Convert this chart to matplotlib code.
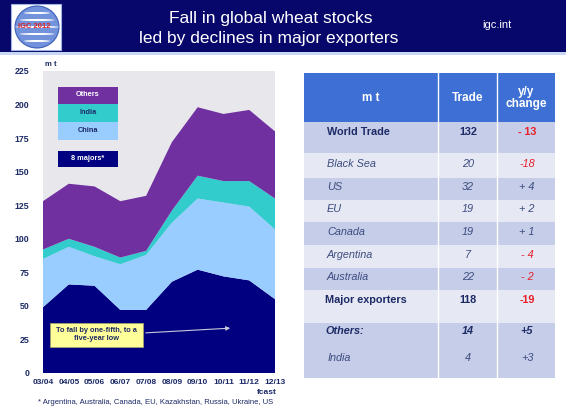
import matplotlib
matplotlib.use("Agg")
import matplotlib.pyplot as plt
from matplotlib.patches import Rectangle, Ellipse, FancyArrowPatch
import numpy as np

plt.rcParams['font.family'] = ['Liberation Sans', 'DejaVu Sans']

# ---------------- data ----------------
seasons = ["03/04", "04/05", "05/06", "06/07", "07/08", "08/09", "09/10", "10/11", "11/12", "12/13"]
majors = [49, 66, 65, 47, 47, 68, 77, 72, 69, 55]
china_top = [85, 94, 87, 81, 88, 112, 130, 127, 124, 107]
india_top = [92, 100, 94, 86, 91, 121, 147, 143, 143, 130]
total = [128, 141, 139, 128, 132, 172, 198, 193, 196, 180]
china = [c - m for c, m in zip(china_top, majors)]
india = [i - c for i, c in zip(india_top, china_top)]
others = [t - i for t, i in zip(total, india_top)]
yticks = [0, 25, 50, 75, 100, 125, 150, 175, 200, 225]

row_labels = ["World Trade", "Black Sea", "US", "EU", "Canada", "Argentina", "Australia",
              "Major exporters", "Others:", "India"]
row_trade = ["132", "20", "32", "19", "19", "7", "22", "118", "14", "4"]
row_change = ["- 13", "-18", "+ 4", "+ 2", "+ 1", "- 4", "- 2", "-19", "+5", "+3"]

# ---------------- figure ----------------
W, H = 566, 412
fig = plt.figure(figsize=(W / 100, H / 100), dpi=100)
fig.patch.set_facecolor("white")


def fx(x):
    return x / W


def fy(y):
    return 1 - y / H


def rect(x0, y0, x1, y1, **kw):
    fig.patches.append(Rectangle((fx(x0), fy(y1)), fx(x1) - fx(x0), fy(y0) - fy(y1),
                                 transform=fig.transFigure, **kw))


def txt(x, y, s, **kw):
    fig.text(fx(x), fy(y), s, **kw)


navy = "#000080"
textnavy = "#1c2a66"

# banner
rect(0, 0, W, 52, facecolor="#07076b", edgecolor="none")
rect(0, 52, W, 55, facecolor="#c8d8f4", edgecolor="none")
# logo
rect(11, 4, 61, 50, facecolor="white", edgecolor="#9fb4e0", lw=0.8)
fig.patches.append(Ellipse((fx(37), fy(27)), fx(44), 42 / H, transform=fig.transFigure,
                           facecolor="#5a7fd6", edgecolor="#2a4fb0", lw=0.8, alpha=0.85))
for k in range(-2, 3):
    fig.patches.append(Ellipse((fx(37), fy(27 + k * 7)), fx(44 - abs(k) * 9), 2 / H,
                               transform=fig.transFigure, facecolor="white", edgecolor="none"))
txt(34, 27, "IGC 2012", fontsize=5.5, color="#e02020", fontweight="bold", ha="center", va="center")

txt(271, 19, "Fall in global wheat stocks", fontsize=12.5, color="white", ha="center", va="center")
txt(269, 38, "led by declines in major exporters", fontsize=12.5, color="white", ha="center", va="center")
txt(497, 25, "igc.int", fontsize=8, color="white", ha="center", va="center")

# ---------------- chart ----------------
L, R, T, B = 43, 275, 71, 373
ax = fig.add_axes([fx(L), fy(B), fx(R) - fx(L), fy(T) - fy(B)])
ax.set_facecolor("#e8e8ec")
x = np.arange(len(seasons))
ax.stackplot(x, majors, china, india, others,
             colors=[navy, "#99ccff", "#33cccc", "#7030a0"], linewidth=0)
ax.set_xlim(0, len(seasons) - 1)
ax.set_ylim(0, 225)
ax.set_yticks(yticks)
ax.set_yticklabels([str(v) for v in yticks], fontsize=6.3, fontweight="bold", color=textnavy)
ax.set_xticks(x)
ax.set_xticklabels(seasons, fontsize=6, fontweight="bold", color=textnavy)
ax.tick_params(length=0, pad=4)
ax.tick_params(axis="y", pad=10)
for s in ax.spines.values():
    s.set_visible(False)
txt(45, 64, "m t", fontsize=5.5, fontweight="bold", color=textnavy, ha="left", va="center")
txt(277, 392, "fcast", fontsize=6, fontweight="bold", color=textnavy, ha="right", va="center")

# legend boxes
rect(58, 87, 118, 104, facecolor="#7030a0", edgecolor="none")
rect(58, 104, 118, 122, facecolor="#33cccc", edgecolor="none")
rect(58, 122, 118, 140, facecolor="#99ccff", edgecolor="none")
rect(58, 151, 118, 167, facecolor=navy, edgecolor="none")
txt(88, 95, "Others", fontsize=5.3, fontweight="bold", color="white", ha="center", va="center")
txt(88, 113, "India", fontsize=5.3, fontweight="bold", color=textnavy, ha="center", va="center")
txt(88, 131, "China", fontsize=5.3, fontweight="bold", color=textnavy, ha="center", va="center")
txt(88, 159, "8 majors*", fontsize=5.3, fontweight="bold", color="white", ha="center", va="center")

# annotation
rect(50, 323, 143, 347, facecolor="#ffff99", edgecolor="#a0a070", lw=0.6)
txt(96.5, 335, "To fall by one-fifth, to a\nfive-year low", fontsize=5.3, fontweight="bold",
    color=textnavy, ha="center", va="center", linespacing=1.2)
fig.patches.append(FancyArrowPatch((fx(143), fy(333)), (fx(233), fy(328)),
                                   transform=fig.transFigure, arrowstyle="-|>",
                                   mutation_scale=6, color="#c8c8d8", lw=0.8))

txt(156, 403, "* Argentina, Australia, Canada, EU, Kazakhstan, Russia, Ukraine, US",
    fontsize=5.5, color=textnavy, ha="center", va="center")

# ---------------- table ----------------
c0, c1, c2, c3 = 304, 438, 497, 555
rect(c0, 73, c3, 122, facecolor="#3d6fd4", edgecolor="none")
bounds = [122, 153, 178, 200, 222, 245, 268, 290, 323, 378]
fills = ["#c6cde8", "#e6e8f3", "#c6cde8", "#e6e8f3", "#c6cde8", "#e6e8f3", "#c6cde8", "#e6e8f3", "#c6cde8"]
for i, f in enumerate(fills):
    rect(c0, bounds[i], c3, bounds[i + 1], facecolor=f, edgecolor="none")
for cx in (c1, c2):
    fig.add_artist(plt.Line2D([fx(cx), fx(cx)], [fy(73), fy(378)], transform=fig.transFigure,
                              color="white", lw=1.0))

txt((c0 + c1) / 2, 98, "m t", fontsize=8.5, fontweight="bold", color="white", ha="center", va="center")
txt((c1 + c2) / 2, 98, "Trade", fontsize=8.5, fontweight="bold", color="white", ha="center", va="center")
txt((c2 + c3) / 2, 98, "y/y\nchange", fontsize=8.5, fontweight="bold", color="white", ha="center",
    va="center", linespacing=0.9)

row_y = [132, 164, 187, 209, 232, 255, 277, 300, 331, 358]
styles = ["bold", "italic", "italic", "italic", "italic", "italic", "italic", "bold", "bolditalic", "italic"]
label_x = [327, 327, 327, 327, 327, 327, 327, 325, 325, 328]
for lab, tr, ch, yy, st, lx in zip(row_labels, row_trade, row_change, row_y, styles, label_x):
    bold = "bold" in st
    ital = "italic" in st
    col = textnavy if bold else "#3c4c80"
    kw = dict(fontsize=7.8, fontweight="bold" if bold else "normal",
              fontstyle="italic" if ital else "normal", va="center")
    txt(lx, yy, lab, color=col, ha="left", **kw)
    txt(468, yy, tr, color=col, ha="center", **kw)
    chcol = "#e8202a" if ch.startswith("-") else col
    txt(527, yy, ch, color=chcol, ha="center", **kw)

fig.savefig("out.png", dpi=100)
